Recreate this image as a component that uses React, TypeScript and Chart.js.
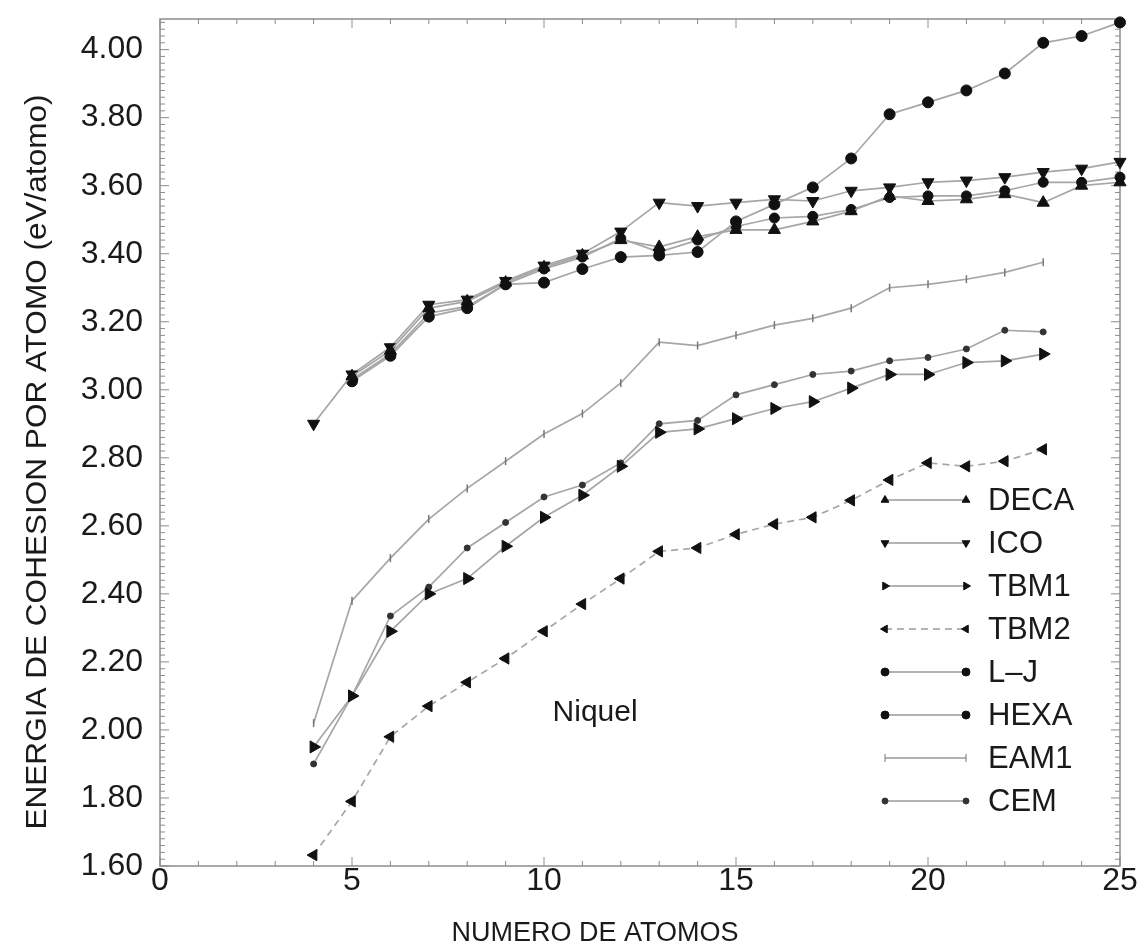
import React, { useEffect, useRef } from 'react';
import { Chart, registerables } from 'chart.js';
import { drawPoint } from 'chart.js/helpers';

Chart.register(...registerables);

// ---------- data ----------
const seriesNames = ['DECA', 'ICO', 'TBM1', 'TBM2', 'L–J', 'HEXA', 'EAM1', 'CEM'];

const atomsIco = [4, 5, 6, 7, 8, 9, 10, 11, 12, 13, 14, 15, 16, 17, 18, 19, 20, 21, 22, 23, 24, 25];
const atomsTop = [5, 6, 7, 8, 9, 10, 11, 12, 13, 14, 15, 16, 17, 18, 19, 20, 21, 22, 23, 24, 25];
const atomsLow = [4, 5, 6, 7, 8, 9, 10, 11, 12, 13, 14, 15, 16, 17, 18, 19, 20, 21, 22, 23];

const deca = [3.04, 3.115, 3.24, 3.26, 3.315, 3.36, 3.395, 3.44, 3.42, 3.45, 3.47, 3.47, 3.495, 3.525, 3.57, 3.555, 3.56, 3.575, 3.55, 3.6, 3.61];
const ico = [2.9, 3.045, 3.125, 3.25, 3.265, 3.32, 3.365, 3.4, 3.465, 3.55, 3.54, 3.55, 3.56, 3.555, 3.585, 3.595, 3.61, 3.615, 3.625, 3.64, 3.65, 3.67];
const lj = [3.025, 3.1, 3.215, 3.24, 3.31, 3.315, 3.355, 3.39, 3.395, 3.405, 3.495, 3.545, 3.595, 3.68, 3.81, 3.845, 3.88, 3.93, 4.02, 4.04, 4.08];
const hexa = [3.03, 3.105, 3.225, 3.245, 3.31, 3.355, 3.39, 3.445, 3.405, 3.44, 3.48, 3.505, 3.51, 3.53, 3.565, 3.57, 3.57, 3.585, 3.61, 3.61, 3.625];
const tbm1 = [1.95, 2.1, 2.29, 2.4, 2.445, 2.54, 2.625, 2.69, 2.775, 2.875, 2.885, 2.915, 2.945, 2.965, 3.005, 3.045, 3.045, 3.08, 3.085, 3.105];
const tbm2 = [1.632, 1.79, 1.98, 2.07, 2.14, 2.21, 2.29, 2.37, 2.445, 2.525, 2.535, 2.575, 2.605, 2.625, 2.675, 2.735, 2.785, 2.775, 2.79, 2.825];
const eam1 = [2.02, 2.38, 2.505, 2.62, 2.71, 2.79, 2.87, 2.93, 3.02, 3.14, 3.13, 3.16, 3.19, 3.21, 3.24, 3.3, 3.31, 3.325, 3.345, 3.375];
const cem = [1.9, 2.1, 2.335, 2.42, 2.535, 2.61, 2.685, 2.72, 2.785, 2.9, 2.91, 2.985, 3.015, 3.045, 3.055, 3.085, 3.095, 3.12, 3.175, 3.17];

const xTicks = [0, 5, 10, 15, 20, 25];
const yTicks = [1.6, 1.8, 2.0, 2.2, 2.4, 2.6, 2.8, 3.0, 3.2, 3.4, 3.6, 3.8, 4.0];

const xTitle = 'NUMERO DE ATOMOS';
const yTitle = 'ENERGIA DE COHESION POR ATOMO (eV/atomo)';
const sampleLabel = 'Niquel';

// ---------- styling ----------
const FONT = '"Liberation Sans", Arial, Helvetica, sans-serif';
const LINE = '#a6a6a6';
const MARK = '#111111';

const pts = (xs: number[], ys: number[]) => xs.map((n, i) => ({ x: n, y: ys[i] }));

function ds(label: string, data: any[], style: string, rotation: number, radius: number, legendRadius: number, extra: any = {}) {
  return {
    label,
    data,
    borderColor: LINE,
    borderWidth: 1.7,
    pointStyle: style,
    pointRotation: rotation,
    pointRadius: radius,
    pointBackgroundColor: MARK,
    pointBorderColor: MARK,
    pointBorderWidth: 1,
    legendRadius,
    clip: false,
    tension: 0,
    ...extra,
  };
}

const zeroPad = (s: any) => {
  s.paddingTop = 0;
  s.paddingBottom = 0;
  s.paddingLeft = 0;
  s.paddingRight = 0;
};

const decorPlugin = {
  id: 'decor',
  beforeDatasetsDraw(chart: any) {
    const { ctx, chartArea: a, scales } = chart;
    const x = scales.x, y = scales.y;
    ctx.save();
    ctx.strokeStyle = '#8c8c8c';
    ctx.lineWidth = 1.5;
    ctx.strokeRect(a.left, a.top, a.right - a.left, a.bottom - a.top);
    ctx.lineWidth = 1;
    ctx.beginPath();
    for (let n = 0; n <= 25; n++) {
      const px = x.getPixelForValue(n);
      const len = n % 5 === 0 ? 9 : 5;
      ctx.moveTo(px, a.bottom); ctx.lineTo(px, a.bottom - len);
      ctx.moveTo(px, a.top); ctx.lineTo(px, a.top + len);
    }
    for (let k = 0; k <= 124; k++) {
      const v = 1.6 + k * 0.02;
      const py = y.getPixelForValue(v);
      if (py < a.top - 0.5) break;
      const len = k % 10 === 0 ? 9 : 5;
      ctx.moveTo(a.left, py); ctx.lineTo(a.left + len, py);
      ctx.moveTo(a.right, py); ctx.lineTo(a.right - len, py);
    }
    ctx.stroke();
    ctx.restore();
  },
  afterDatasetsDraw(chart: any) {
    const { ctx, chartArea: a, scales } = chart;
    const x = scales.x, y = scales.y;
    ctx.save();
    ctx.fillStyle = '#1a1a1a';
    ctx.textBaseline = 'middle';

    // sample label
    ctx.font = `30px ${FONT}`;
    ctx.textAlign = 'center';
    ctx.fillText(sampleLabel, x.getPixelForValue(11.33), y.getPixelForValue(2.05));

    // legend (inside plot, lower right)
    chart.data.datasets.forEach((d: any, i: number) => {
      const cy = a.top + 481 + i * 43;
      const x0 = a.left + 725;
      const x1 = a.left + 806;
      ctx.strokeStyle = '#9a9a9a';
      ctx.lineWidth = 1.3;
      ctx.setLineDash(d.borderDash || []);
      ctx.beginPath();
      ctx.moveTo(x0, cy); ctx.lineTo(x1, cy);
      ctx.stroke();
      ctx.setLineDash([]);
      ctx.fillStyle = d.pointBackgroundColor;
      ctx.strokeStyle = d.pointBorderColor;
      ctx.lineWidth = 1;
      const o = { pointStyle: d.pointStyle, rotation: d.pointRotation, radius: d.legendRadius, borderWidth: 1 };
      drawPoint(ctx, o as any, x0, cy);
      drawPoint(ctx, o as any, x1, cy);
      ctx.fillStyle = '#1a1a1a';
      ctx.font = `31px ${FONT}`;
      ctx.textAlign = 'left';
      ctx.fillText(d.label, a.left + 828, cy + 1);
    });

    // axis titles
    ctx.fillStyle = '#1a1a1a';
    ctx.font = `27px ${FONT}`;
    ctx.textAlign = 'center';
    ctx.fillText(xTitle, 595, 934);

    ctx.save();
    ctx.translate(38, 462);
    ctx.rotate(-Math.PI / 2);
    ctx.font = `30px ${FONT}`;
    const w = ctx.measureText(yTitle).width;
    ctx.scale(735 / w, 1);
    ctx.fillText(yTitle, 0, 0);
    ctx.restore();

    ctx.restore();
  },
};

export default function App() {
  const ref = useRef<HTMLCanvasElement>(null);

  useEffect(() => {
    const datasets = [
      ds(seriesNames[0], pts(atomsTop, deca), 'triangle', 0, 7, 4.5),
      ds(seriesNames[1], pts(atomsIco, ico), 'triangle', 180, 7, 4.5),
      ds(seriesNames[2], pts(atomsLow, tbm1), 'triangle', 90, 7, 4.5),
      ds(seriesNames[3], pts(atomsLow, tbm2), 'triangle', 270, 6.5, 4.5, { borderDash: [7, 5] }),
      ds(seriesNames[4], pts(atomsTop, lj), 'circle', 0, 5.5, 4),
      ds(seriesNames[5], pts(atomsTop, hexa), 'circle', 0, 5, 4),
      ds(seriesNames[6], pts(atomsLow, eam1), 'line', 90, 4, 4, { pointBorderColor: '#777', pointBackgroundColor: '#777', pointBorderWidth: 1.5 }),
      ds(seriesNames[7], pts(atomsLow, cem), 'circle', 0, 3, 3, { pointBackgroundColor: '#333', pointBorderColor: '#333' }),
    ];

    const chart = new Chart(ref.current!, {
      type: 'line',
      data: { datasets: datasets as any },
      options: {
        animation: false,
        responsive: true,
        maintainAspectRatio: false,
        layout: { padding: { top: 19, right: 21, left: 0, bottom: 0 } },
        plugins: { legend: { display: false }, tooltip: { enabled: false }, title: { display: false } },
        scales: {
          x: {
            type: 'linear',
            min: 0,
            max: 25,
            afterBuildTicks: (s: any) => { s.ticks = xTicks.map((v) => ({ value: v })); },
            afterFit: (s: any) => { s.height = 86; zeroPad(s); },
            ticks: { font: { family: FONT, size: 32 }, color: '#1a1a1a', padding: -4, maxRotation: 0, autoSkip: false },
            grid: { display: false, drawTicks: false },
            border: { display: false },
          },
          y: {
            type: 'linear',
            min: 1.6,
            max: 4.09,
            afterBuildTicks: (s: any) => { s.ticks = yTicks.map((v) => ({ value: v })); },
            afterFit: (s: any) => { s.width = 160; zeroPad(s); },
            ticks: {
              font: { family: FONT, size: 32 },
              color: '#1a1a1a',
              padding: 17,
              autoSkip: false,
              callback: (v: any) => Number(v).toFixed(2),
            },
            grid: { display: false, drawTicks: false },
            border: { display: false },
          },
        },
      },
      plugins: [decorPlugin as any],
    });
    return () => chart.destroy();
  }, []);

  return (
    <div style={{ position: 'fixed', left: 0, top: 0, width: 1141, height: 952, background: '#fff' }}>
      <canvas ref={ref} />
    </div>
  );
}
